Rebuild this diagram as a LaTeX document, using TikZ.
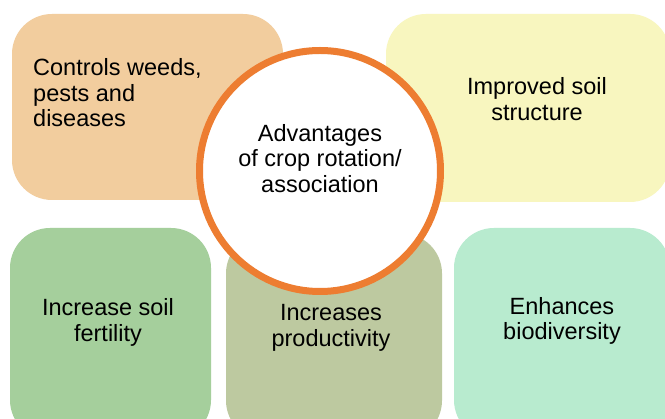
\documentclass[tikz,border=0pt]{standalone}
\usepackage{fontspec}
\setmainfont{Liberation Sans}
\definecolor{tanc}{HTML}{F2CD9E}
\definecolor{yelc}{HTML}{F8F6BF}
\definecolor{grnc}{HTML}{A5CF9C}
\definecolor{olvc}{HTML}{BDC9A0}
\definecolor{mntc}{HTML}{B8EBCF}
\definecolor{orgc}{HTML}{ED7D31}
\begin{document}
\begin{tikzpicture}[x=1pt,y=-1pt,
  box/.style={rounded corners=40pt, inner sep=0pt, outer sep=0pt, draw=none},
  lbl/.style={font=\fontsize{23.5}{25.5}\selectfont, align=center, inner sep=0pt, text=black}]
\useasboundingbox (0,0) rectangle (665,419);
\clip (0,0) rectangle (665,419);
\fill[white] (0,0) rectangle (665,419);
% boxes
\node[box, fill=tanc, minimum width=271pt, minimum height=186pt] (b1) at (147.5,107) {};
\node[box, fill=yelc, minimum width=284pt, minimum height=188pt] (b2) at (528,108) {};
\node[box, fill=grnc, minimum width=201pt, minimum height=212pt] (b3) at (110.5,334) {};
\node[box, fill=olvc, minimum width=216pt, minimum height=207pt] (b4) at (334,337) {};
\node[box, fill=mntc, minimum width=216pt, minimum height=212pt] (b5) at (562,334) {};
% circle
\node[circle, draw=orgc, line width=7pt, fill=white, minimum size=241pt, inner sep=0pt] (c) at (320,171) {};
% labels
\node[lbl, align=left, anchor=west] (t1) at (33,93) {Controls weeds,\\pests and\\diseases};
\node[lbl] (t2) at (537,99) {Improved soil\\structure};
\node[lbl] (t3) at (108,322.5) {Increase soil\\fertility};
\node[lbl] (t4) at (331,328) {Increases\\productivity};
\node[lbl] (t5) at (562,321) {Enhances\\biodiversity};
\node[lbl] (tc) at (320,158.5) {Advantages\\of crop rotation/\\association};
\end{tikzpicture}
\end{document}
